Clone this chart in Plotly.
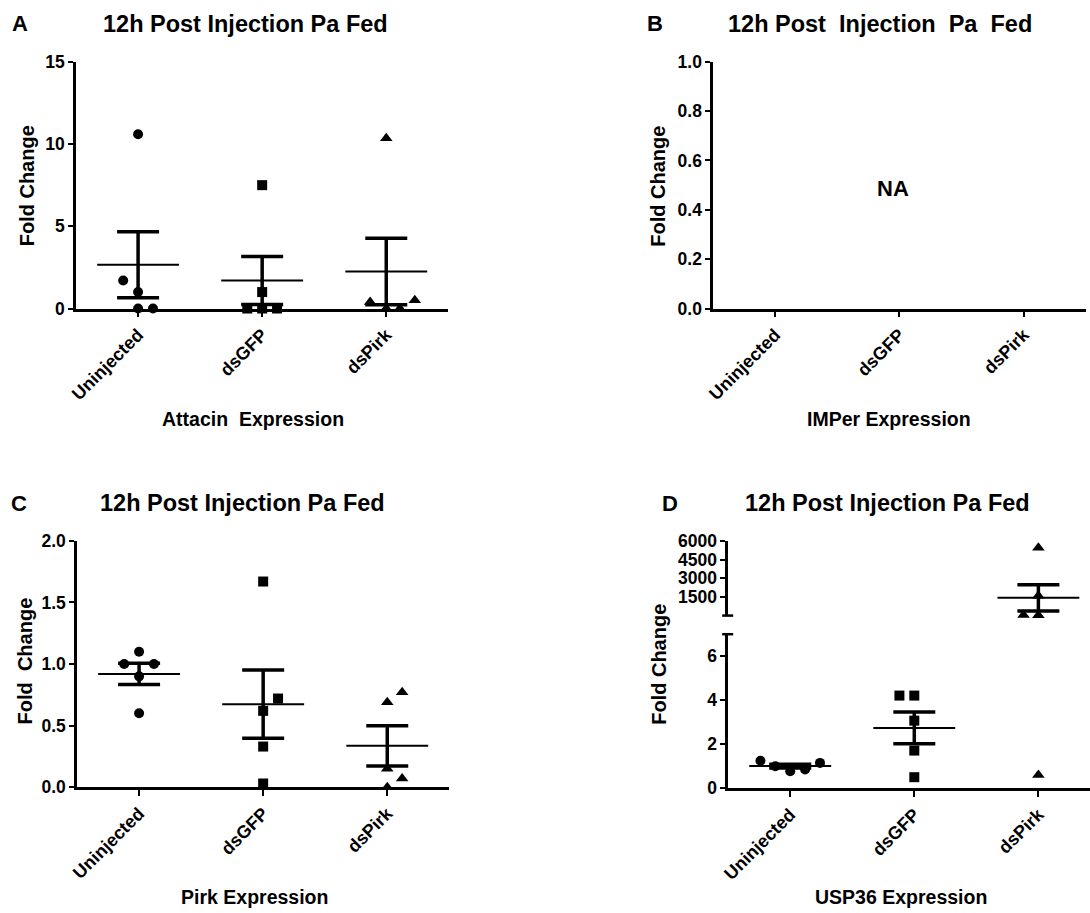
import numpy as np
import plotly.graph_objects as go

CATEGORIES = ["Uninjected", "dsGFP", "dsPirk"]

# Attacin fold change per group
attacin_uninjected = [10.6, 1.7, 1.0, 0.0, 0.0]
attacin_dsgfp = [7.5, 1.0, 0.0, 0.0, 0.0]
attacin_dspirk = [10.35, 0.4, 0.5, 0.0, 0.0]

# Pirk fold change per group
pirk_uninjected = [1.1, 1.0, 1.0, 0.9, 0.6]
pirk_dsgfp = [1.67, 0.72, 0.62, 0.33, 0.03]
pirk_dspirk = [0.77, 0.69, 0.15, 0.07, 0.0]

# USP36 fold change per group
usp36_uninjected = [1.25, 1.0, 0.77, 0.85, 1.15]
usp36_dsgfp = [4.21, 4.21, 3.07, 1.71, 0.5]
usp36_dspirk = [5450, 1600, 40, 30, 0.6]

# y tick values
ticks_attacin = [0, 5, 10, 15]
ticks_imper = [0.0, 0.2, 0.4, 0.6, 0.8, 1.0]
ticks_pirk = [0.0, 0.5, 1.0, 1.5, 2.0]
ticks_usp36_low = [0, 2, 4, 6]
ticks_usp36_high = [1500, 3000, 4500, 6000]

# horizontal spread of coinciding points, in category units
spread_attacin = [[0, -0.12, 0, 0, 0.12], [0, 0, -0.12, 0, 0.12], [0, -0.13, 0.23, 0, 0.11]]
spread_pirk = [[0, -0.12, 0.12, 0, 0], [0, 0.12, 0, 0, 0], [0.12, 0, 0, 0.12, 0]]
spread_usp36 = [[-0.24, -0.12, 0, 0.12, 0.24], [-0.12, 0, 0, 0, 0], [0, 0, -0.12, 0, 0]]

SYMBOLS = ["circle", "square", "triangle-up"]
SIZES = [10, 10, 11]
FONT = "Liberation Sans, Arial, sans-serif"
W, H = 1090, 913
# screen placement of the figure: page offset and scale
OFF, KX, KY = 8, 0.992, 0.982
BREAK = 7  # USP36 axis break

fig = go.Figure()


def add_group(values, spread, idx, xa, ya, ya_high=None):
    vals = np.asarray(values, dtype=float)
    xs = idx + np.asarray(spread, dtype=float)
    mean = vals.mean()
    sem = vals.std(ddof=1) / np.sqrt(len(vals))
    if ya_high is None:
        groups = [(ya, np.ones(len(vals), bool))]
        mean_axis = ya
    else:
        hi = vals > BREAK
        groups = [(ya, ~hi), (ya_high, hi)]
        mean_axis = ya_high if mean > BREAK else ya
    for axis, mask in groups:
        if mask.any():
            fig.add_trace(go.Scatter(
                x=xs[mask], y=vals[mask], mode="markers", xaxis=xa, yaxis=axis,
                marker=dict(symbol=SYMBOLS[idx], size=SIZES[idx], color="black"),
                cliponaxis=False, showlegend=False, hoverinfo="y"))
    fig.add_trace(go.Scatter(
        x=[idx - 0.33, idx + 0.33], y=[mean, mean], mode="lines",
        xaxis=xa, yaxis=mean_axis, line=dict(color="black", width=2),
        cliponaxis=False, showlegend=False, hoverinfo="skip"))
    fig.add_trace(go.Scatter(
        x=[idx], y=[mean], mode="markers", xaxis=xa, yaxis=mean_axis,
        marker=dict(size=1, color="black"),
        error_y=dict(type="data", array=[sem], visible=True, color="black",
                     thickness=3.5, width=21),
        cliponaxis=False, showlegend=False, hoverinfo="skip"))


for i, (v, s) in enumerate(zip([attacin_uninjected, attacin_dsgfp, attacin_dspirk], spread_attacin)):
    add_group(v, s, i, "x", "y")
for i, (v, s) in enumerate(zip([pirk_uninjected, pirk_dsgfp, pirk_dspirk], spread_pirk)):
    add_group(v, s, i, "x3", "y3")
for i, (v, s) in enumerate(zip([usp36_uninjected, usp36_dsgfp, usp36_dspirk], spread_usp36)):
    add_group(v, s, i, "x4", "y4", "y5")

# empty IMPer panel still needs its axes drawn
fig.add_trace(go.Scatter(x=[], y=[], xaxis="x2", yaxis="y2", showlegend=False))


def fig_x(p):
    return (p - OFF) / KX


def px_x(p):
    """screen column -> paper fraction"""
    return min(max(fig_x(p) / W, 0.0), 1.0)


def px_y(p):
    """screen row -> paper fraction"""
    return min(max(1 - (p - OFF) / KY / H, 0.0), 1.0)


axis_common = dict(showline=True, linecolor="black", linewidth=2.5, ticks="outside",
                   tickcolor="black", tickwidth=2, showgrid=False, zeroline=False,
                   tickfont=dict(family=FONT, size=17.5, color="black", weight="bold"))
x_common = dict(axis_common, tickvals=[0, 1, 2], ticktext=CATEGORIES, tickangle=-45, ticklen=6,
                tickfont=dict(family=FONT, size=18, color="black", weight="bold"))

top_y = [px_y(307.7), px_y(60)]
bot_y = [px_y(788.3), px_y(541)]
d_low = [px_y(789.3), px_y(634.7)]
d_high = [px_y(616), px_y(541)]
d_x0 = 727.7
unit = 124 / KX  # one category step

fig.update_layout(
    width=W, height=H, margin=dict(l=0, r=0, t=0, b=0),
    paper_bgcolor="white", plot_bgcolor="white", showlegend=False,
    xaxis=dict(x_common, domain=[px_x(76), px_x(448)], range=[-0.5, 2.5], anchor="y"),
    yaxis=dict(axis_common, domain=top_y, range=[0, 15], tickvals=ticks_attacin, ticklen=5, anchor="x"),
    xaxis2=dict(x_common, domain=[px_x(712.7), px_x(1085)], range=[-0.5, 2.5], anchor="y2"),
    yaxis2=dict(axis_common, domain=top_y, range=[0, 1], tickvals=ticks_imper, tickformat=".1f",
                ticklen=5, anchor="x2"),
    xaxis3=dict(x_common, domain=[px_x(77), px_x(449)], range=[-0.5, 2.5], anchor="y3"),
    yaxis3=dict(axis_common, domain=bot_y, range=[0, 2], tickvals=ticks_pirk, tickformat=".1f",
                ticklen=5, anchor="x3"),
    xaxis4=dict(x_common, domain=[px_x(d_x0), 1.0],
                range=[-0.5, (W - fig_x(d_x0)) / unit - 0.5], anchor="y4"),
    yaxis4=dict(axis_common, domain=d_low, range=[0, BREAK], tickvals=ticks_usp36_low, ticklen=5, anchor="x4"),
    yaxis5=dict(axis_common, domain=d_high, range=[0, 6000], tickvals=ticks_usp36_high, ticklen=5, anchor="x4"),
)

# end caps at the USP36 axis break
for yb in [d_high[0], d_low[1]]:
    fig.add_shape(type="line", xref="paper", yref="paper",
                  x0=px_x(d_x0 - 6), x1=px_x(d_x0 + 5), y0=yb, y1=yb,
                  line=dict(color="black", width=2.5))


def text(s, x, y, size, angle=0, xanchor="center"):
    fig.add_annotation(text=s, x=px_x(x), y=px_y(y), xref="paper", yref="paper",
                       showarrow=False, textangle=angle, xanchor=xanchor, yanchor="middle",
                       font=dict(family=FONT, size=size, color="black", weight="bold"))


title = "12h Post Injection Pa Fed"
text("A", 20, 22, 22)
text(title, 101, 22, 23.5, xanchor="left")
text("B", 655, 22, 22)
text("12h Post&nbsp; Injection&nbsp; Pa&nbsp; Fed", 726, 22, 23.5, xanchor="left")
text("C", 19, 503, 22)
text(title, 98, 503, 23.5, xanchor="left")
text("D", 670, 503, 22)
text(title, 743, 503, 23.5, xanchor="left")

text("Fold Change", 27, 185, 20, angle=-90)
text("Fold Change", 658, 185, 20, angle=-90)
text("Fold&nbsp; Change", 25, 662, 20, angle=-90)
text("Fold Change", 659, 665, 20, angle=-90)

text("Attacin&nbsp; Expression", 253, 419, 19.5)
text("IMPer Expression", 888, 419, 19.5)
text("Pirk Expression", 254, 899, 19.5)
text("USP36 Expression", 900, 899, 19.5)

text("NA", 892, 187, 22)

fig.write_html("out.html")
